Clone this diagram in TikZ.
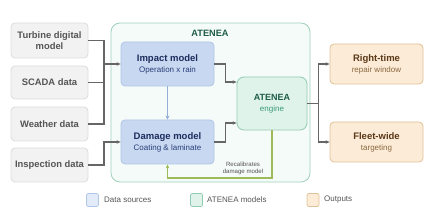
\documentclass[tikz,border=0pt]{standalone}
\usepackage{fontspec}
\setmainfont{Liberation Sans}
\usetikzlibrary{arrows.meta,calc}
\definecolor{srcfill}{HTML}{F2F2F2}
\definecolor{srcdraw}{HTML}{DCDCDC}
\definecolor{srctext}{HTML}{555555}
\definecolor{modfill}{HTML}{C8D8F0}
\definecolor{moddraw}{HTML}{B0C6E6}
\definecolor{modtext}{HTML}{1C2D5E}
\definecolor{modsub}{HTML}{2A3F7A}
\definecolor{contfill}{HTML}{F5FBF8}
\definecolor{contdraw}{HTML}{9FD0BC}
\definecolor{engfill}{HTML}{E0F3EB}
\definecolor{engdraw}{HTML}{8FCAB2}
\definecolor{engtext}{HTML}{1D5C48}
\definecolor{engsub}{HTML}{3A9A78}
\definecolor{outfill}{HTML}{FCEBD6}
\definecolor{outdraw}{HTML}{E0C298}
\definecolor{outtext}{HTML}{5A3818}
\definecolor{outsub}{HTML}{8A6840}
\definecolor{arrcol}{HTML}{666666}
\definecolor{bluearr}{HTML}{94AED8}
\definecolor{greenarr}{HTML}{9DBB5A}
\definecolor{legtext}{HTML}{555555}
\tikzset{
  srcbox/.style={draw=srcdraw, fill=srcfill, line width=0.8pt, rounded corners=4pt,
    minimum width=77pt, align=center, text=srctext, font=\fontsize{9.4}{11}\selectfont\bfseries},
  modbox/.style={draw=moddraw, fill=modfill, line width=0.8pt, rounded corners=4pt,
    minimum width=93pt, minimum height=44pt, align=center},
  engbox/.style={draw=engdraw, fill=engfill, line width=0.8pt, rounded corners=7pt,
    minimum width=70pt, minimum height=53pt, align=center},
  outbox/.style={draw=outdraw, fill=outfill, line width=0.8pt, rounded corners=4pt,
    minimum width=93pt, minimum height=40pt, align=center},
  conn/.style={draw=arrcol, line width=1.2pt},
  arr/.style={conn, -{Stealth[length=4pt,width=3.5pt]}},
  legsq/.style={draw, line width=0.8pt, rounded corners=2pt, minimum width=12pt, minimum height=13pt, inner sep=0pt},
  legtxt/.style={anchor=west, text=legtext, font=\fontsize{8}{9}\selectfont, inner sep=0pt}
}
\begin{document}
\begin{tikzpicture}[x=1pt,y=-1pt]
\useasboundingbox (0,0) rectangle (429,213);
% container
\node[draw=contdraw, fill=contfill, line width=0.8pt, rounded corners=9pt,
  minimum width=199pt, minimum height=159pt, inner sep=0pt] (cont) at (210.5,102.5) {};
\node[text=engtext, font=\fontsize{9.2}{11}\selectfont\bfseries] (contlbl) at (210,33) {ATENEA};
% sources
\node[srcbox, minimum height=35pt] (src1) at (49.5,40.5) {Turbine digital\\model};
\node[srcbox, minimum height=33pt] (src2) at (49.5,82.5) {SCADA data};
\node[srcbox, minimum height=34pt] (src3) at (49.5,124) {Weather data};
\node[srcbox, minimum height=34pt] (src4) at (49.5,165) {Inspection data};
% models
\node[modbox] (impact) at (167.5,64) {{\color{modtext}\fontsize{9.5}{11}\selectfont\bfseries Impact model}\\[-1pt]{\color{modsub}\fontsize{8}{9}\selectfont Operation x rain}};
\node[modbox] (damage) at (167.5,142) {{\color{modtext}\fontsize{9.5}{11}\selectfont\bfseries Damage model}\\[-1pt]{\color{modsub}\fontsize{8}{9}\selectfont Coating \& laminate}};
\node[engbox] (engine) at (272,103.5) {{\color{engtext}\fontsize{9}{11}\selectfont\bfseries ATENEA}\\[-1pt]{\color{engsub}\fontsize{8}{9}\selectfont engine}};
% outputs
\node[outbox] (right) at (376.5,64) {{\color{outtext}\fontsize{9.5}{11}\selectfont\bfseries Right-time}\\[-1pt]{\color{outsub}\fontsize{8}{9}\selectfont repair window}};
\node[outbox] (fleet) at (376.5,142) {{\color{outtext}\fontsize{9.5}{11}\selectfont\bfseries Fleet-wide}\\[-1pt]{\color{outsub}\fontsize{8}{9}\selectfont targeting}};
% source connectors
\coordinate (jx) at (104,64);
\draw[conn] (src1.east) -| (jx);
\draw[conn] (src2.east) -| (jx);
\draw[conn] (src3.east) -| (jx);
\draw[arr] (jx) -- (impact.west);
\draw[arr] (src4.east) -- (104,165) |- (damage.west);
% model connectors
\draw[draw=bluearr, line width=1.7pt, -{Stealth[length=4pt,width=4pt]}] (impact.south) -- (damage.north);
\draw[arr] (impact.east) -- ++(11,0) |- ($(engine.west)+(0,-21.5)$);
\draw[arr] (damage.east) -- ++(11,0) |- ($(engine.west)+(0,19.5)$);
% outputs
\coordinate (ej) at ($(engine.east)+(11,0)$);
\draw[conn] (engine.east) -- (ej);
\draw[arr] (ej) |- (right.west);
\draw[arr] (ej) |- (fleet.west);
% feedback
\coordinate (fb) at (272,178);
\draw[draw=greenarr, line width=1.3pt, -{Stealth[length=4pt,width=3.5pt]}] (engine.south) -- (fb) -| (damage.south);
\node[text=legtext, font=\fontsize{6.1}{7}\selectfont, align=center, inner sep=0pt] (fblbl) at (243,168.5) {Recalibrates\\damage model};
% legend
\node[legsq, draw=moddraw, fill=modfill!50] (lg1) at (92.5,200) {};
\node[legtxt] (lt1) at (104,200) {Data sources};
\node[legsq, draw=engdraw, fill=engfill] (lg2) at (196.5,200) {};
\node[legtxt] (lt2) at (207,200) {ATENEA models};
\node[legsq, draw=outdraw, fill=outfill] (lg3) at (313,200) {};
\node[legtxt] (lt3) at (324,200) {Outputs};
\end{tikzpicture}
\end{document}
